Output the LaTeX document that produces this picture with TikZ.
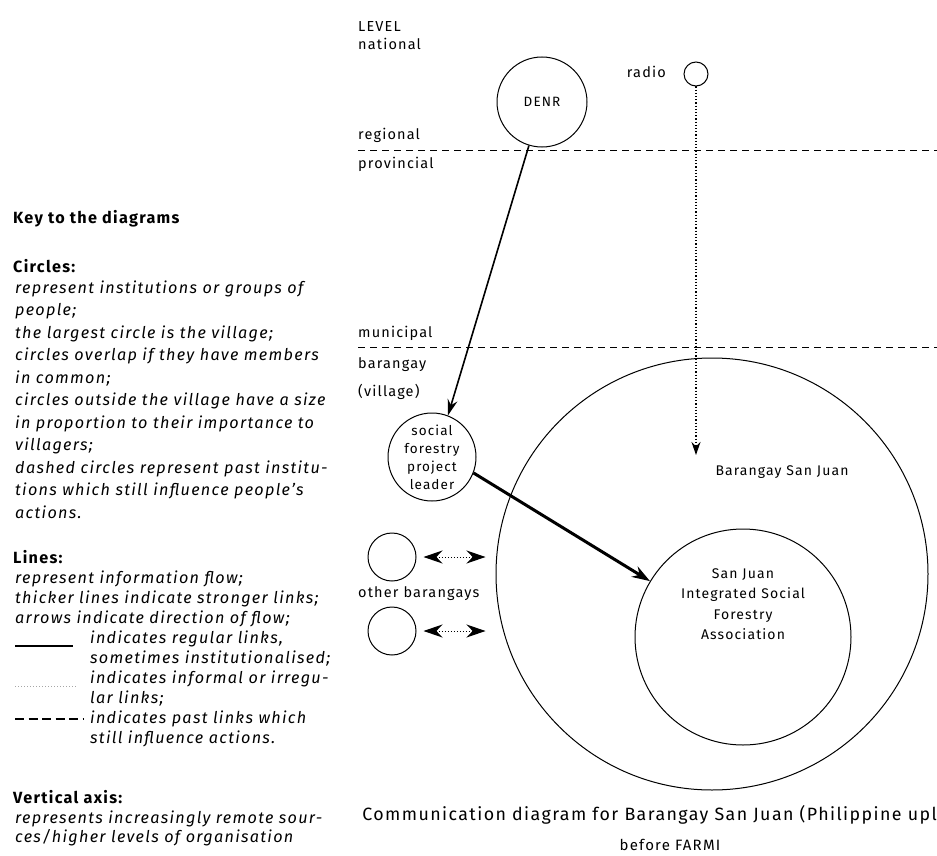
\documentclass[tikz,border=0pt]{standalone}
\usepackage{fontspec}
\setmainfont{Fira Sans}[LetterSpace=8]
\usetikzlibrary{arrows.meta}
\tikzset{
  keyline/.style={font=\fontsize{16.2}{18}\selectfont\itshape, anchor=base west, inner sep=0pt},
  keyhead/.style={font=\fontsize{16.2}{18}\selectfont\bfseries, anchor=base west, inner sep=0pt},
  lvl/.style={font=\fontsize{14.5}{17}\selectfont, anchor=base west, inner sep=0pt},
  inst/.style={circle, draw, line width=1pt, inner sep=0pt},
  lbl/.style={font=\fontsize{14}{20}\selectfont, align=center, inner sep=0pt},
  levelline/.style={dash pattern=on 7pt off 5pt, line width=0.7pt},
  capt/.style={font=\fontsize{17.8}{20}\selectfont, inner sep=0pt},
}
\begin{document}
\begin{tikzpicture}[x=1pt,y=-1pt]
\useasboundingbox (0,0) rectangle (937,856);

% ---------- key ----------
\node[keyhead] (keytitle) at (13,223) {Key to the diagrams};
\node[keyhead] (hcircles) at (13,272) {Circles:};
\foreach \t [count=\i] in {represent institutions or groups of, people;, the largest circle is the village;,
  circles overlap if they have members, in common;, circles outside the village have a size,
  in proportion to their importance to, villagers;, dashed circles represent past institu-,
  tions which still influence people's, actions.}
  \node[keyline] (cl\i) at (15,{293+(\i-1)*22.5}) {\t};

\node[keyhead] (hlines) at (13,563) {Lines:};
\node[keyline] (ll1) at (15,583) {represent information flow;};
\node[keyline] (ll2) at (15,603) {thicker lines indicate stronger links;};
\node[keyline] (ll3) at (15,623) {arrows indicate direction of flow;};
\node[keyline] (ll4) at (90,643) {indicates regular links,};
\node[keyline] (ll5) at (90,663) {sometimes institutionalised;};
\node[keyline] (ll6) at (90,683) {indicates informal or irregu-};
\node[keyline] (ll7) at (90,703) {lar links;};
\node[keyline] (ll8) at (90,723) {indicates past links which};
\node[keyline] (ll9) at (90,743) {still influence actions.};
\coordinate (s1a) at (15,646); \coordinate (s1b) at (73,646);
\coordinate (s2a) at (15,686); \coordinate (s2b) at (77,686);
\coordinate (s3a) at (15,719); \coordinate (s3b) at (83,719);
\draw[line width=1.1pt] (s1a) -- (s1b);
\draw[gray!70, dotted, line width=1pt] (s2a) -- (s2b);
\draw[line width=1.1pt, dash pattern=on 9pt off 4.5pt] (s3a) -- (s3b);

\node[keyhead] (hvert) at (13,803) {Vertical axis:};
\node[keyline] (vl1) at (15,823) {represents increasingly remote sour-};
\node[keyline] (vl2) at (15,842) {ces/higher levels of organisation};

% ---------- level labels ----------
\node[lvl] (tlevel) at (358,32) {LEVEL};
\node[lvl] (tnat) at (358,50) {national};
\node[lvl] (treg) at (358,140) {regional};
\node[lvl] (tprov) at (358,168) {provincial};
\node[lvl] (tmun) at (358,337) {municipal};
\node[lvl] (tbar) at (358,368) {barangay};
\node[lvl] (tvil) at (358,396) {(village)};
\coordinate (lv1a) at (358,150); \coordinate (lv1b) at (937,150);
\coordinate (lv2a) at (358,347); \coordinate (lv2b) at (937,347);
\draw[levelline] (lv1a) -- (lv1b);
\draw[levelline] (lv2a) -- (lv2b);

% ---------- institutions ----------
\node[inst, minimum size=90pt, font=\fontsize{13.5}{16}\selectfont] (denr) at (542,102) {DENR};
\node[inst, minimum size=24pt] (radio) at (696,74) {};
\node[lvl, anchor=base east] (tradio) at (666,78) {radio};
\node[inst, minimum size=432pt] (village) at (712,574) {};
\node[lbl] (tvillage) at (782,472) {Barangay San Juan};
\node[inst, minimum size=216pt] (sjisfa) at (743,637) {};
\node[lbl, font=\fontsize{14}{20.5}\selectfont] (tsjisfa) at (743,604) {San Juan\\Integrated Social\\Forestry\\Association};
\node[inst, minimum size=88pt, lbl, font=\fontsize{13.5}{18}\selectfont] (leader) at (432,457) {social\\forestry\\project\\leader};
\node[inst, minimum size=48pt] (ob1) at (392,557) {};
\node[inst, minimum size=48pt] (ob2) at (392,631) {};
\node[lvl] (tob) at (358,597) {other barangays};

% ---------- connectors ----------
\coordinate (rtip) at (696,455);
\draw[dotted, line width=1.2pt, -{Stealth[length=13pt,width=9pt]}] (radio) -- (rtip);
\draw[line width=1.6pt, -{Stealth[length=16pt,width=10pt]}] (denr) -- (leader.69);
\draw[line width=3pt, -{Stealth[length=18pt,width=12pt]}] (leader.-21) -- (sjisfa.149);
\draw[dotted, line width=1pt, {Stealth[length=19pt,width=13pt]}-{Stealth[length=19pt,width=13pt]}]
  ([xshift=7pt]ob1.east) -- ([xshift=69pt]ob1.east);
\draw[dotted, line width=1pt, {Stealth[length=19pt,width=13pt]}-{Stealth[length=19pt,width=13pt]}]
  ([xshift=7pt]ob2.east) -- ([xshift=69pt]ob2.east);

% ---------- caption ----------
\node[capt, anchor=base east] (cap1) at (937,820) {Communication diagram for Barangay San Juan (Philippine upl};
\node[capt, anchor=base, font=\fontsize{15}{18}\selectfont] (cap2) at (670,850) {before FARMI};
\end{tikzpicture}
\end{document}
